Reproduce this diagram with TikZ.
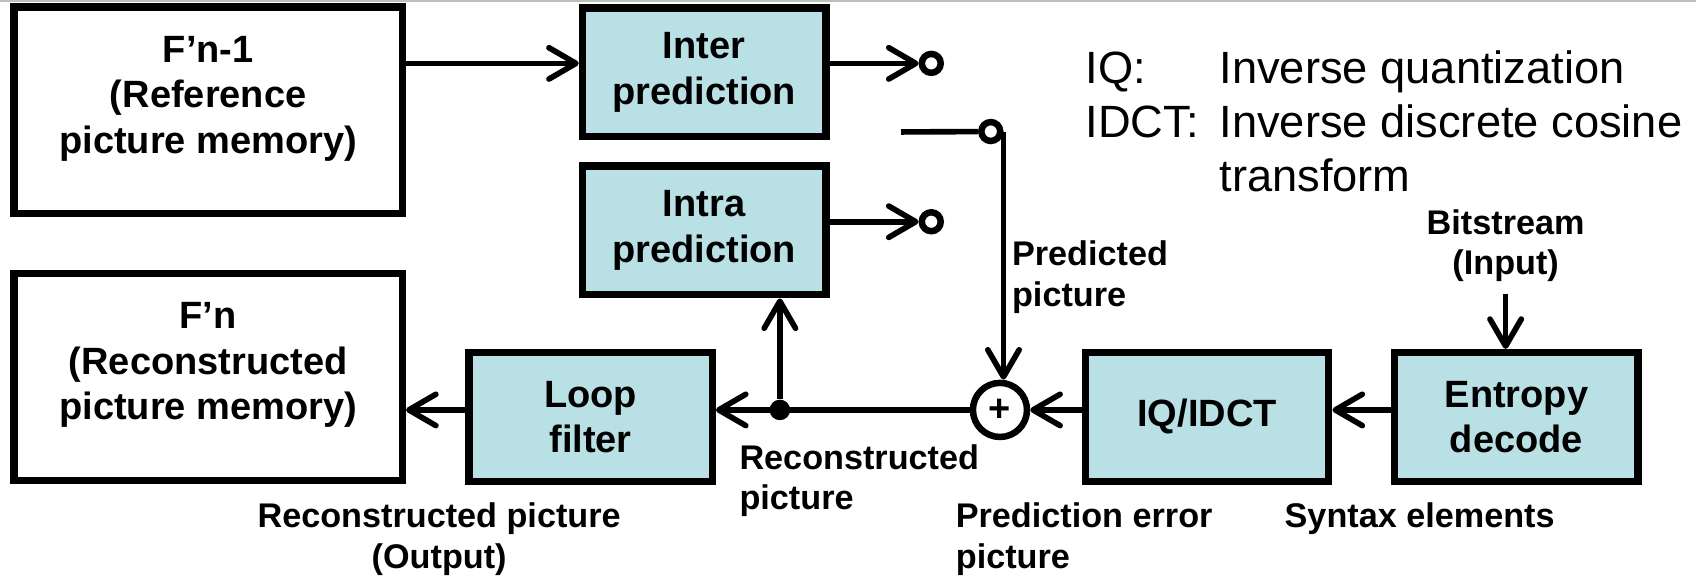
\documentclass[tikz,border=0pt]{standalone}
\usepackage{fontspec}
\setmainfont{Liberation Sans}
\usetikzlibrary{arrows.meta}

\definecolor{boxfill}{RGB}{185,224,228}

\tikzset{
  box/.style={draw, line width=0.68mm, fill=boxfill, minimum width=22.5mm,
    minimum height=11.9mm, align=center, inner sep=0pt,
    font=\fontsize{10}{12}\selectfont\bfseries},
  membox/.style={box, fill=white, minimum width=35.9mm, minimum height=19.1mm,
    text depth=8.3pt},
  lbl/.style={inner sep=0pt, font=\fontsize{9}{10.7}\selectfont\bfseries},
  port/.style={circle, draw, fill=white, line width=0.6mm, minimum size=1.75mm,
    inner sep=0pt},
  dot/.style={circle, fill, minimum size=1.9mm, inner sep=0pt},
  wire/.style={line width=0.52mm},
  arr/.style={wire, -{Straight Barb[length=2.5mm,width=2.9mm,round]}}
}

\begin{document}
\begin{tikzpicture}[x=0.1mm, y=-0.1mm]

\useasboundingbox (0,0) rectangle (1568,534);
\draw [gray!50, line width=0.2mm] (0,1) -- (1568,1);

\node [membox] (refmem) at (192.5,102) {F’n-1\\(Reference\\picture memory)};
\node [membox] (recmem) at (192.5,348.5) {F’n\\(Reconstructed\\picture memory)};

\node [box] (inter) at (651,67) {Inter\\prediction};
\node [box] (intra) at (651,213) {Intra\\prediction};
\node [box] (loop) at (546,385.5) {Loop\\filter};
\node [box] (iqidct) at (1116,385.5) {IQ/IDCT};
\node [box] (entropy) at (1402,385.5) {Entropy\\decode};

\foreach \n/\x/\y in {interout/861/58.6, intraout/861/205, pivot/916/121.6}
    \node [port] (\n) at (\x,\y) {};

\coordinate (swend) at (833,122);
\node [port, minimum size=5mm, font=\fontsize{10}{12}\selectfont\bfseries] (adder) at (924.5,379) {+};
\node [dot] (junc) at (721,379) {};

\draw [arr] (refmem.east |- interout) -- (inter.west |- interout);
\foreach \b/\p in {inter/interout, intra/intraout}
    \draw [arr] (\b.east |- \p) -- (\p);

\draw [wire] (swend) -- (pivot);
\draw [arr] (pivot.east) -- (pivot.east |- adder.north);

\draw [arr] (entropy.west |- adder) -- (iqidct.east |- adder);
\draw [arr] (iqidct.west |- adder) -- (adder);
\draw [arr] (adder) -- (loop.east |- adder);
\draw [arr] (loop.west |- adder) -- (recmem.east |- adder);
\draw [arr] (junc) -- (junc |- intra.south);

\node [lbl, anchor=north west, align=left] (lblpred) at (935,222) {Predicted\\picture};
\node [lbl, anchor=north west, align=left] (lblrec) at (683,410) {Reconstructed\\picture};
\node [lbl, anchor=north, align=center] (lblout) at (406,464) {Reconstructed picture\\(Output)};
\node [lbl, anchor=north west, align=left] (lblerr) at (883,464) {Prediction error\\picture};
\node [lbl, anchor=north west] (lblsyn) at (1187,464) {Syntax elements};
\node [lbl, anchor=north, align=center] (bits) at (1392,193) {Bitstream\\(Input)};
\draw [arr] ([yshift=-1mm]bits.south) -- (bits.south |- entropy.north);

\node [anchor=base west, inner sep=0pt, font=\fontsize{11.9}{14.2}\selectfont] (legend) at (1003,77)
    {\begin{tabular}[t]{@{}l@{\hspace{5.5pt}}l@{}}
     IQ: & Inverse quantization\\
     IDCT: & Inverse discrete cosine\\
     & transform
     \end{tabular}};

\end{tikzpicture}
\end{document}
